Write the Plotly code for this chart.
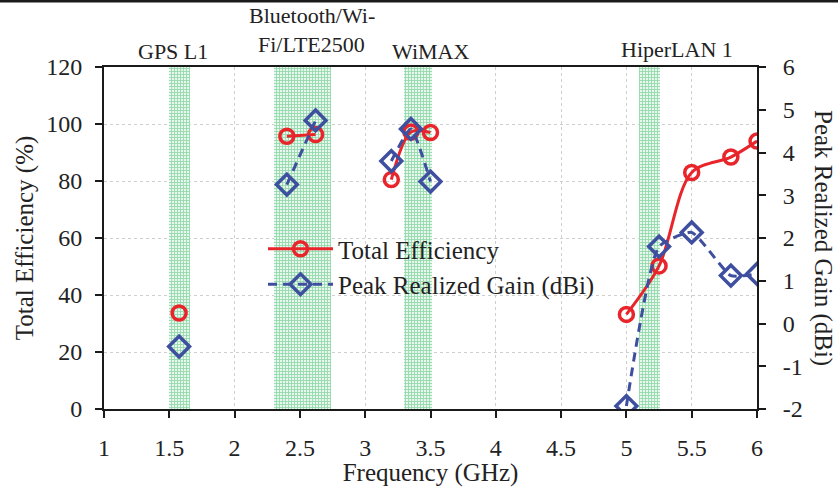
import plotly.graph_objects as go

# Measured data (frequency in GHz); None separates the measured bands
freq = [1.575, None, 2.4, 2.62, None, 3.2, 3.35, 3.5, None, 5.0, 5.25, 5.5, 5.8, 6.0]
efficiency = [33.7, None, 95.7, 96.3, None, 80.5, 97.2, 97.0, None, 33.2, 50.2, 83.0, 88.4, 94.0]
gain = [-0.54, None, 3.25, 4.75, None, 3.8, 4.55, 3.32, None, -1.93, 1.8, 2.13, 1.12, 1.16]

# Operating bands (GHz)
band_lo = [1.50, 2.30, 3.30, 5.10]
band_hi = [1.66, 2.74, 3.51, 5.26]

# Band labels: text, x position (GHz), vertical pixel centre
label_txt = ["GPS L1", "Bluetooth/Wi-", "Fi/LTE2500", "WiMAX", "HiperLAN 1"]
label_x = [1.53, 2.59, 2.59, 3.5, 5.39]
label_py = [51, 15, 44, 51, 50]

x_ticks = [1, 1.5, 2, 2.5, 3, 3.5, 4, 4.5, 5, 5.5, 6]
gain_ticks = [-2, -1, 0, 1, 2, 3, 4, 5, 6]

W, H = 838, 487
ML, MR, MT, MB = 104, 81, 67, 78
PW, PH = W - ML - MR, H - MT - MB

FONT = "Liberation Serif"
INK = "#222222"
RED = "#E8252B"
BLUE = "#3F4FA0"
PAD = "\u00a0\u00a0"  # leading gap for the right-hand tick labels

fig = go.Figure()

# Hatched band regions
fig.add_trace(go.Bar(
    x=[(a + b) / 2 for a, b in zip(band_lo, band_hi)],
    width=[b - a for a, b in zip(band_lo, band_hi)],
    y=[121.5] * len(band_lo),
    base=0,
    marker=dict(
        color="rgba(0,0,0,0)",
        line=dict(width=0),
        pattern=dict(shape="+", size=3, solidity=0.5,
                     fgcolor="#3dbb68", bgcolor="#e9f8ee"),
    ),
    cliponaxis=False,
    showlegend=False,
    hoverinfo="skip",
))

fig.add_trace(go.Scatter(
    x=freq, y=efficiency, name="Total Efficiency",
    mode="lines+markers", connectgaps=False,
    line=dict(color=RED, width=3, shape="spline", smoothing=0.9),
    marker=dict(symbol="circle-open", size=14, color=RED, line=dict(width=3.5, color=RED)),
    legendgroup="a",
))

fig.add_trace(go.Scatter(
    x=freq, y=gain, name="Peak Realized Gain (dBi)", yaxis="y2",
    mode="lines+markers", connectgaps=False,
    line=dict(color=BLUE, width=3, dash="9px,6px", shape="spline", smoothing=0.5),
    marker=dict(symbol="diamond-open", size=16, color=BLUE, line=dict(width=3.5, color=BLUE)),
    legendgroup="b",
))

# Band labels above the plot
for lx, py, txt in zip(label_x, label_py, label_txt):
    fig.add_annotation(
        x=lx, xref="x", y=1 + (MT - py) / PH, yref="paper",
        text=txt, showarrow=False, xanchor="center", yanchor="middle",
        font=dict(family=FONT, size=22, color=INK),
    )

title_font = dict(family=FONT, size=25, color=INK)

# Right-hand axis title
fig.add_annotation(
    x=1 + (823 - (W - MR)) / PW, xref="paper", y=0.5, yref="paper",
    text="Peak Realized Gain (dBi)", textangle=90, showarrow=False,
    xanchor="center", yanchor="middle", font=title_font,
)

# Thin dark rule along the top edge
fig.add_shape(type="rect", xref="paper", yref="paper",
              x0=-ML / PW, x1=1 + MR / PW,
              y0=1 + (MT - 2.5) / PH, y1=1 + (MT + 1) / PH,
              fillcolor="#1a1a1a", line=dict(width=0), layer="above")

axis_common = dict(
    showline=True, linecolor="#1a1a1a", linewidth=2,
    ticks="outside", ticklen=7, tickwidth=1.5, tickcolor="#1a1a1a",
    tickfont=dict(family=FONT, size=24, color=INK),
    zeroline=False, automargin=False,
)

fig.update_layout(
    width=W, height=H,
    margin=dict(l=ML, r=MR, t=MT, b=MB),
    paper_bgcolor="white", plot_bgcolor="white",
    font=dict(family=FONT, color=INK),
    xaxis=dict(
        range=[1, 6], tickvals=x_ticks, ticktext=[f"{v:g}" for v in x_ticks],
        mirror=True, showgrid=True, gridcolor="#cfcfcf", griddash="dot", gridwidth=1,
        ticklabelstandoff=9,
        title=dict(text="Frequency (GHz)", font=title_font, standoff=0),
        **axis_common,
    ),
    yaxis=dict(
        range=[0, 120], dtick=20,
        showgrid=True, gridcolor="#cfcfcf", griddash="dot", gridwidth=1,
        ticklabelstandoff=8,
        title=dict(text="Total Efficiency (%)", font=title_font, standoff=5),
        **axis_common,
    ),
    yaxis2=dict(
        range=[-2, 6], tickvals=gain_ticks, ticktext=[PAD + str(v) for v in gain_ticks],
        overlaying="y", side="right",
        showgrid=False,
        **axis_common,
    ),
    legend=dict(
        x=(263 - ML) / PW, y=1 - (226 - MT) / PH, xanchor="left", yanchor="top",
        bgcolor="rgba(0,0,0,0)", borderwidth=0,
        font=dict(family=FONT, size=25, color=INK),
        itemwidth=65, traceorder="grouped", tracegroupgap=0,
    ),
    bargap=0,
    showlegend=True,
)

fig.write_html("out.html")
